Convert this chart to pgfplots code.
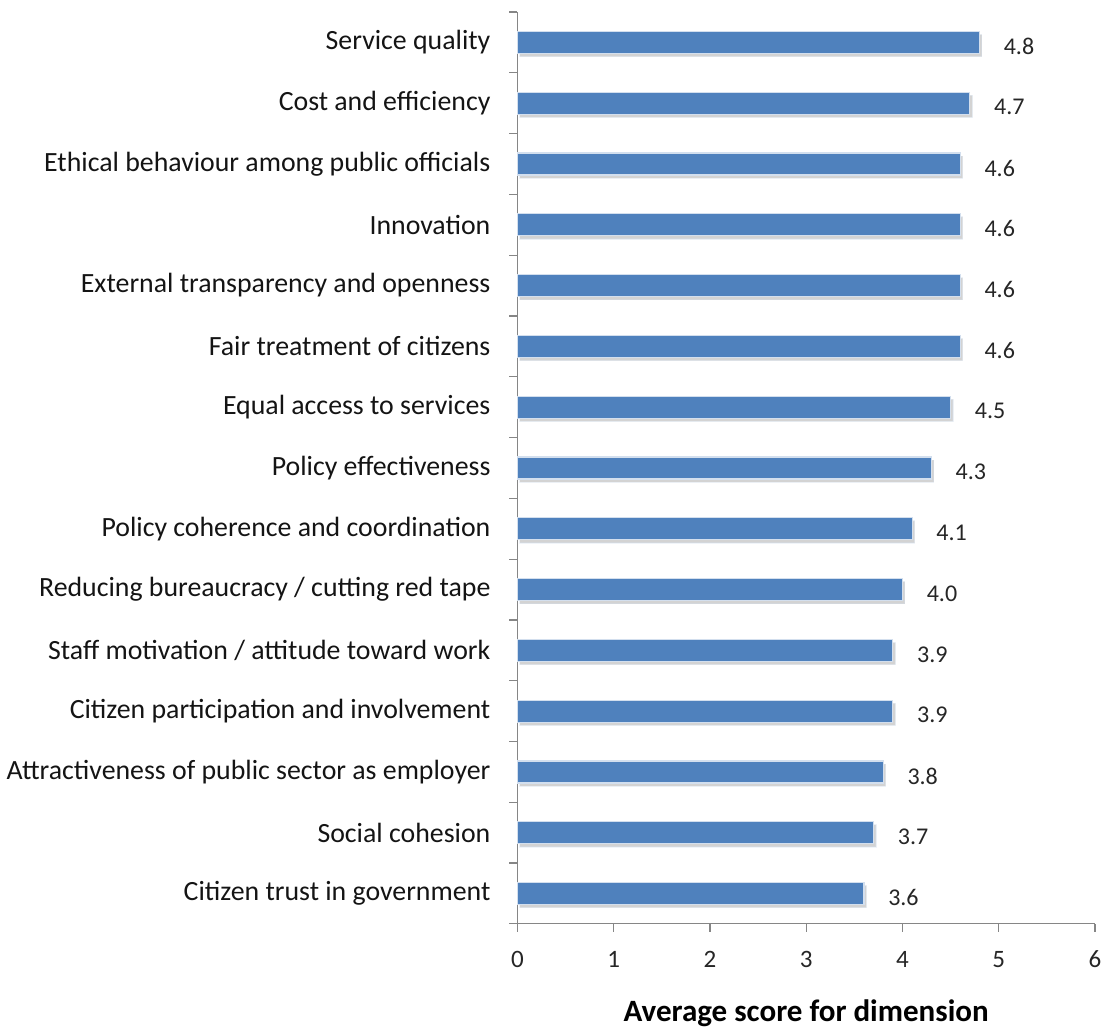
\documentclass[border=0pt]{standalone}
\usepackage{pgfplots}
\pgfplotsset{compat=1.18}
\usepackage{fontspec}
\setmainfont{Carlito}
\usetikzlibrary{shadows}
\definecolor{barblue}{HTML}{4F81BD}
\definecolor{axgray}{HTML}{868686}
\begin{document}
\begin{tikzpicture}
\begin{axis}[
  scale only axis,
  width=288.5pt, height=455.5pt,
  xbar, bar width=11pt,
  xmin=0, xmax=6,
  ymin=-0.5, ymax=14.5,
  y dir=reverse,
  axis lines*=left,
  axis line style={axgray, line width=0.6pt},
  xtick={0,1,2,3,4,5,6},
  ytick={0,...,14},
  yticklabels={Service quality, Cost and efficiency, Ethical behaviour among public officials, Innovation, External transparency and openness, Fair treatment of citizens, Equal access to services, Policy effectiveness, Policy coherence and coordination, Reducing bureaucracy / cutting red tape, Staff motivation / attitude toward work, Citizen participation and involvement, Attractiveness of public sector as employer, Social cohesion, Citizen trust in government},
  minor ytick={-0.5,0.5,...,14.5},
  major y tick style={draw=none},
  minor y tick style={axgray, line width=0.6pt},
  x tick style={axgray, line width=0.6pt},
  tick align=outside,
  major tick length=4pt, minor tick length=4pt,
  yticklabel style={font=\fontsize{13.9}{15}\selectfont, text=black!92, xshift=-6pt},
  xticklabel style={font=\fontsize{12.5}{14}\selectfont, text=black!85, yshift=-6pt},
  /pgf/number format/assume math mode=true,
  xlabel={\textbf{Average score for dimension}},
  xlabel style={font=\fontsize{15.5}{17}\selectfont, yshift=-9pt},
  nodes near coords={\pgfmathprintnumber[fixed, fixed zerofill, precision=1]{\pgfplotspointmeta}},
  nodes near coords style={font=\fontsize{12}{14}\selectfont, text=black!85, xshift=8.5pt, yshift=-2pt},
  clip=false,
]
\addplot[fill=barblue, draw=white!75!barblue, line width=0.6pt,
  drop shadow={shadow xshift=1.2pt, shadow yshift=-1.6pt, opacity=0.35}]
coordinates {
(4.8,0) (4.7,1) (4.6,2) (4.6,3) (4.6,4) (4.6,5) (4.5,6) (4.3,7) (4.1,8) (4.0,9) (3.9,10) (3.9,11) (3.8,12) (3.7,13) (3.6,14)
};
\end{axis}
\path (current axis.north) ++(0,6pt);
\end{tikzpicture}
\end{document}
